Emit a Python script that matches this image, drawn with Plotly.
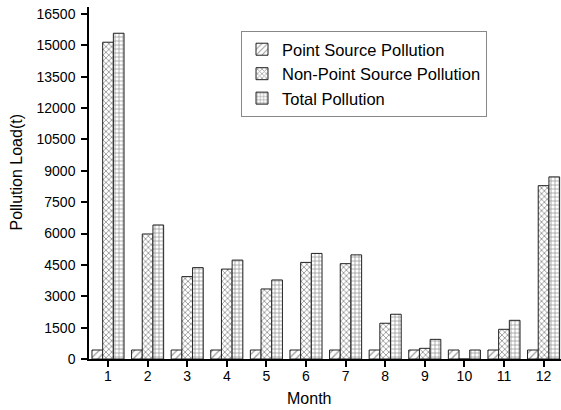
import plotly.graph_objects as go

months = list(range(1, 13))
month_labels = [str(m) for m in months]
point_source = [430, 430, 430, 430, 430, 430, 430, 430, 430, 430, 430, 430]
non_point = [15150, 5980, 3940, 4300, 3350, 4620, 4560, 1710, 510, 0, 1420, 8290]
total = [15580, 6410, 4370, 4730, 3780, 5050, 4980, 2140, 940, 430, 1850, 8710]
y_ticks = [0, 1500, 3000, 4500, 6000, 7500, 9000, 10500, 12000, 13500, 15000, 16500]
y_tick_labels = [str(v) for v in y_ticks]

series = [
    ("Point Source Pollution", point_source, "/", 5, 0.25),
    ("Non-Point Source Pollution", non_point, "x", 4, 0.4),
    ("Total Pollution", total, "+", 4, 0.35),
]

fig = go.Figure()
for name, vals, shape, size, sol in series:
    fig.add_trace(go.Bar(
        x=months, y=vals, name=name,
        marker=dict(
            color="white",
            line=dict(color="#222222", width=1),
            pattern=dict(shape=shape, fgcolor="#333333", bgcolor="white",
                         size=size, solidity=sol),
        ),
    ))

font_family = "Arial, 'Liberation Sans', sans-serif"
fig.update_layout(
    width=561, height=410,
    margin=dict(l=89, r=0, t=7, b=51),
    paper_bgcolor="white", plot_bgcolor="white",
    barmode="group", bargap=0.19, bargroupgap=0,
    font=dict(family=font_family, size=14, color="black"),
    showlegend=True,
    legend=dict(
        x=(241 - 89) / 472, y=(359 - 31) / 352, xanchor="left", yanchor="top",
        bordercolor="#888888", borderwidth=1, bgcolor="white",
        font=dict(size=16.5), tracegroupgap=0,
    ),
    xaxis=dict(
        range=[0.52, 12.44], tickmode="array", tickvals=months, ticktext=month_labels,
        showline=True, linecolor="black", linewidth=1.5, ticks="outside",
        ticklen=6, tickwidth=1.5, tickcolor="black", showgrid=False, zeroline=False,
        tickfont=dict(size=14), ticklabelstandoff=-3,
    ),
    yaxis=dict(
        range=[0, 16835], tickmode="array", tickvals=y_ticks, ticktext=y_tick_labels,
        showline=True, linecolor="black", linewidth=1.5, ticks="outside",
        ticklen=6, tickwidth=1.5, tickcolor="black", showgrid=False, zeroline=False,
        tickfont=dict(size=14), ticklabelstandoff=3,
    ),
    annotations=[
        dict(text="Pollution Load(t)", xref="paper", yref="paper",
             x=(15.5 - 89) / 472, y=(359 - 172) / 352, textangle=-90,
             showarrow=False, font=dict(size=16), xanchor="center", yanchor="middle"),
        dict(text="Month", xref="paper", yref="paper",
             x=(309 - 89) / 472, y=(359 - 398) / 352,
             showarrow=False, font=dict(size=16), xanchor="center", yanchor="middle"),
    ],
)

fig.write_html("out.html")
